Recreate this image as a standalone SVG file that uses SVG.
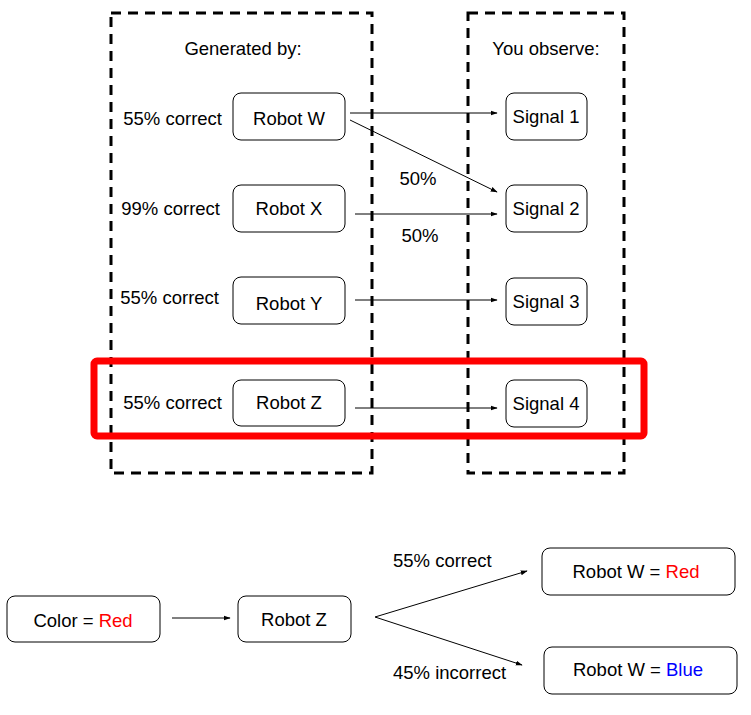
<svg xmlns="http://www.w3.org/2000/svg" width="751" height="715" viewBox="0 0 751 715">
<style>
text{font-family:"Liberation Sans",Arial,sans-serif;font-size:18.5px;fill:#000}
.box{fill:#fff;stroke:#000;stroke-width:1}
.dash{fill:none;stroke:#000;stroke-width:3;stroke-dasharray:10,7}
.c{stroke:#000;stroke-width:1;fill:none;marker-end:url(#ah)}
.red{fill:#ff0000}
.blue{fill:#0000ff}
</style>
<defs>
<marker id="ah" viewBox="0 0 10 10" refX="9" refY="5" markerWidth="7" markerHeight="7" markerUnits="userSpaceOnUse" orient="auto">
<path d="M0,1.5 L10,5 L0,8.5 z" fill="#000"/>
</marker>
</defs>
<rect width="751" height="715" fill="#fff"/>
<g id="panel-generated">
<rect class="dash" x="111" y="13" width="261" height="460"/>
<text x="243" y="55" text-anchor="middle">Generated by:</text>
</g>
<g id="panel-observe">
<rect class="dash" x="468" y="13" width="156" height="460"/>
<text x="546" y="55" text-anchor="middle">You observe:</text>
</g>
<g id="robot-w"><rect class="box" x="233" y="93" width="112" height="47" rx="8"/><text x="289" y="125" text-anchor="middle">Robot W</text></g>
<g id="robot-x"><rect class="box" x="233" y="185" width="112" height="47" rx="8"/><text x="289" y="215" text-anchor="middle">Robot X</text></g>
<g id="robot-y"><rect class="box" x="233" y="277" width="112" height="47" rx="8"/><text x="289" y="310" text-anchor="middle">Robot Y</text></g>
<g id="robot-z"><rect class="box" x="233" y="380" width="112" height="46" rx="8"/><text x="289" y="409" text-anchor="middle">Robot Z</text></g>
<g id="label-w"><text x="222" y="125" text-anchor="end">55% correct</text></g>
<g id="label-x"><text x="220" y="215" text-anchor="end">99% correct</text></g>
<g id="label-y"><text x="219" y="304" text-anchor="end">55% correct</text></g>
<g id="label-z"><text x="222" y="409" text-anchor="end">55% correct</text></g>
<g id="signal-1"><rect class="box" x="506" y="93" width="81" height="47" rx="8"/><text x="546" y="123" text-anchor="middle">Signal 1</text></g>
<g id="signal-2"><rect class="box" x="506" y="185" width="81" height="47" rx="8"/><text x="546" y="215" text-anchor="middle">Signal 2</text></g>
<g id="signal-3"><rect class="box" x="506" y="278" width="81" height="47" rx="8"/><text x="546" y="308" text-anchor="middle">Signal 3</text></g>
<g id="signal-4"><rect class="box" x="506" y="380" width="81" height="47" rx="8"/><text x="546" y="410" text-anchor="middle">Signal 4</text></g>
<g id="highlight"><rect x="94" y="361" width="550" height="75" rx="3" fill="none" stroke="#ff0000" stroke-width="7"/></g>
<g id="color-red"><rect class="box" x="7" y="596" width="153" height="46" rx="8"/><text x="83" y="627" text-anchor="middle">Color = <tspan class="red">Red</tspan></text></g>
<g id="robot-z-2"><rect class="box" x="238" y="596" width="113" height="46" rx="8"/><text x="294" y="626" text-anchor="middle">Robot Z</text></g>
<g id="robot-w-red"><rect class="box" x="542" y="548" width="193" height="47" rx="8"/><text x="636" y="578" text-anchor="middle">Robot W = <tspan class="red">Red</tspan></text></g>
<g id="robot-w-blue"><rect class="box" x="544" y="647" width="193" height="47" rx="8"/><text x="638" y="676" text-anchor="middle">Robot W = <tspan class="blue">Blue</tspan></text></g>
<g id="connectors">
<line class="c" x1="350" y1="113" x2="497" y2="113"/>
<line class="c" x1="350" y1="120" x2="497" y2="192"/>
<line class="c" x1="355" y1="214" x2="497" y2="214"/>
<line class="c" x1="355" y1="300" x2="497" y2="300"/>
<line class="c" x1="355" y1="408" x2="497" y2="408"/>
<line class="c" x1="172" y1="618" x2="230" y2="618"/>
<line class="c" x1="375" y1="617" x2="527" y2="571"/>
<line class="c" x1="375" y1="617" x2="522" y2="665"/>
<text x="418" y="185" text-anchor="middle">50%</text>
<text x="420" y="242" text-anchor="middle">50%</text>
<text x="393" y="567">55% correct</text>
<text x="393" y="679">45% incorrect</text>
</g>
</svg>
